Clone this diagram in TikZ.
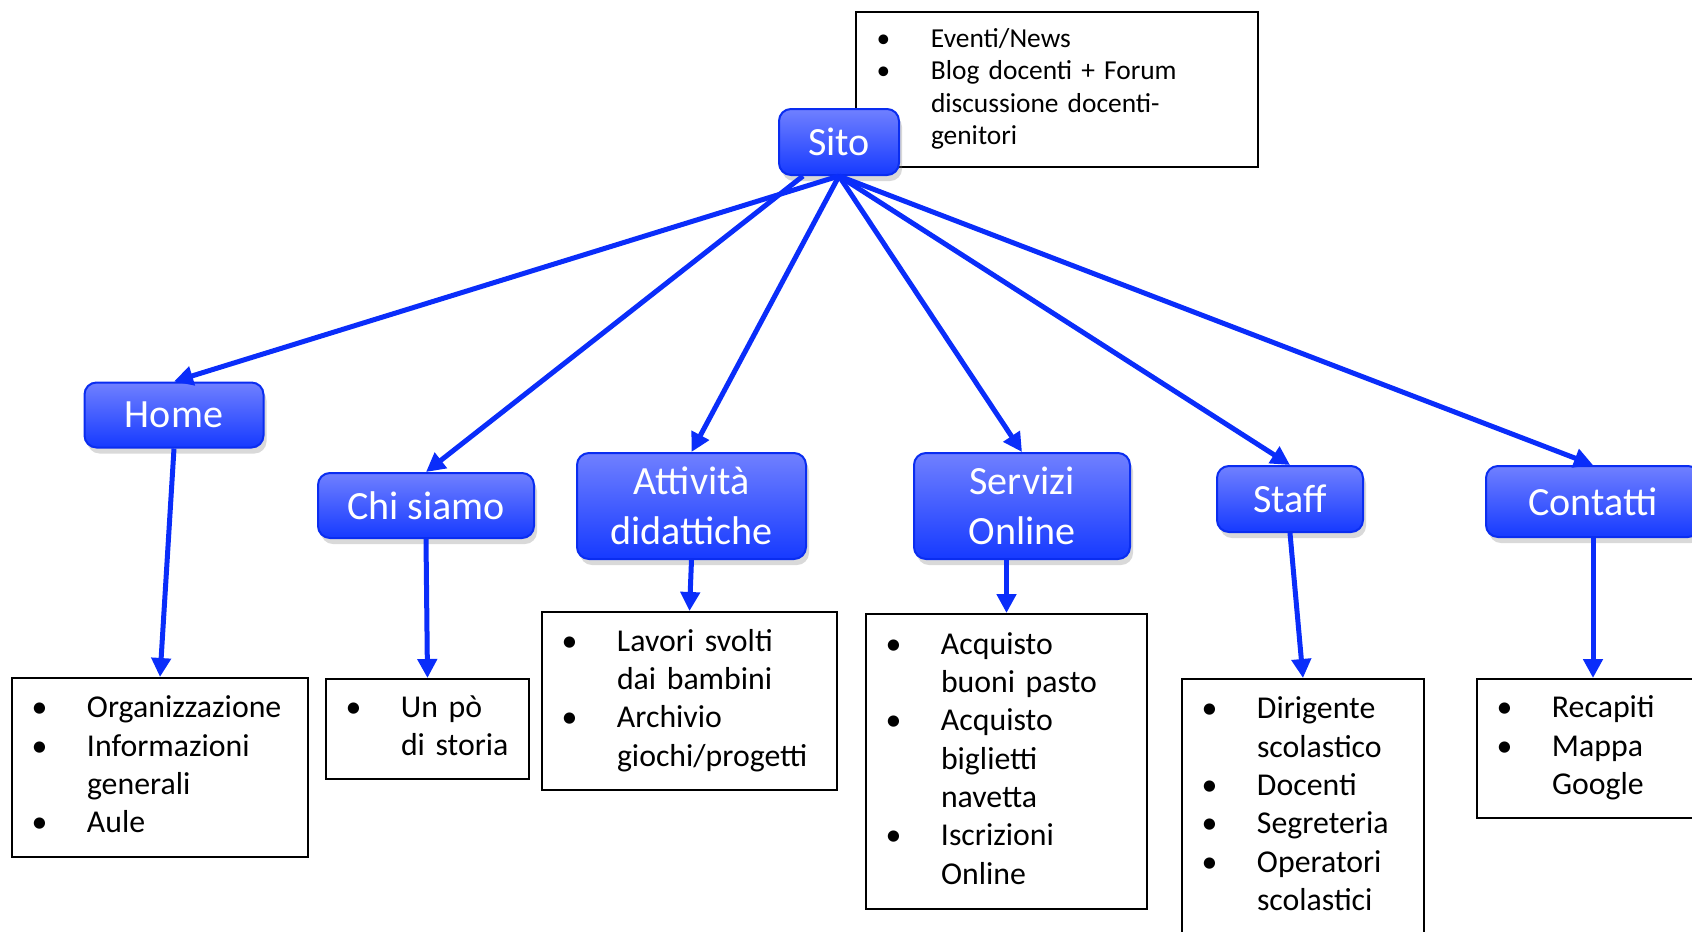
\documentclass[tikz,border=0pt]{standalone}
\usepackage{fontspec}
\setmainfont{Carlito}
\usetikzlibrary{arrows.meta, shadows, positioning}

\definecolor{boxtop}{RGB}{112,128,255}
\definecolor{boxbottom}{RGB}{22,58,255}
\definecolor{boxline}{RGB}{10,45,240}
\definecolor{arrowblue}{RGB}{10,45,250}

\newcommand{\blt}{\makebox[0pt]{\textbullet}}

\tikzset{
  topic/.style={draw=boxline, line width=0.2mm, rounded corners=1.2mm,
    top color=boxtop, bottom color=boxbottom, text=white, align=center,
    inner sep=0pt, font=\fontsize{11.4}{14.1}\selectfont,
    drop shadow={shadow xshift=0.3mm, shadow yshift=-0.6mm, opacity=0.3}},
  listbox/.style={draw=black, line width=0.2mm, fill=white, align=left,
    inner xsep=2.75mm, inner ysep=0pt, font=\fontsize{9.05}{10.9}\selectfont},
  link/.style={draw=arrowblue, line width=0.5mm,
    -{Triangle[length=1.9mm,width=1.9mm]}}
}

\begin{document}
\begin{tikzpicture}[x=0.1mm, y=-0.1mm]
\useasboundingbox (0,0) rectangle (1692,931);

% box next to the root
\node[listbox, font=\fontsize{7.8}{9.2}\selectfont, text width=34.7mm, minimum height=15.5mm] (notes) at (1057,89.5)
  {\begin{tabular}{@{}l@{\hspace{4.75mm}}l@{}}\blt & Eventi/News\\ \blt & Blog docenti + Forum\\ & discussione docenti-\\ & genitori\end{tabular}};

% root and sections
\node[topic, minimum width=12mm, minimum height=6.6mm] (sito) at (839,142) {Sito};
\node[topic, minimum width=17.9mm, minimum height=6.5mm] (home) at (174,415) {Home};
\node[topic, minimum width=21.6mm, minimum height=6.5mm] (chi) at (426,505.5) {Chi siamo};
\node[topic, minimum width=22.9mm, minimum height=10.6mm] (att) at (691.5,506) {Attività\\didattiche};
\node[topic, minimum width=21.6mm, minimum height=10.6mm] (serv) at (1022,506) {Servizi\\Online};
\node[topic, minimum width=14.6mm, minimum height=6.6mm] (staff) at (1290,499) {Staff};
\node[topic, minimum width=21.4mm, minimum height=7.1mm] (cont) at (1593,501.5) {Contatti};

% contents of each section
\node[listbox, text width=24.1mm, minimum height=17.9mm] (homel) at (160,767.5)
  {\begin{tabular}{@{}l@{\hspace{4.75mm}}l@{}}\blt & Organizzazione\\ \blt & Informazioni\\ & generali\\ \blt & Aule\end{tabular}};
\node[listbox, text width=14.8mm, minimum height=10mm] (chil) at (427.5,729)
  {\begin{tabular}{@{}l@{\hspace{4.75mm}}l@{}}\blt & Un pò\\ & di storia\end{tabular}};
\node[listbox, text width=24mm, minimum height=17.8mm] (attl) at (689.5,701)
  {\begin{tabular}{@{}l@{\hspace{4.75mm}}l@{}}\blt & Lavori svolti\\ & dai bambini\\ \blt & Archivio\\ & giochi/progetti\end{tabular}};
\node[listbox, text width=22.6mm, minimum height=29.5mm] (servl) at (1006.5,761.5)
  {\begin{tabular}{@{}l@{\hspace{4.75mm}}l@{}}\blt & Acquisto\\ & buoni pasto\\ \blt & Acquisto\\ & biglietti\\ & navetta\\ \blt & Iscrizioni\\ & Online\end{tabular}};
\node[listbox, text width=18.7mm, minimum height=25.6mm] (staffl) at (1303,807)
  {\begin{tabular}{@{}l@{\hspace{4.75mm}}l@{}}\blt & Dirigente\\ & scolastico\\ \blt & Docenti\\ \blt & Segreteria\\ \blt & Operatori\\ & scolastici\end{tabular}};
\node[listbox, text width=17.7mm, minimum height=13.9mm] (contl) at (1593,748.5)
  {\begin{tabular}{@{}l@{\hspace{4.75mm}}l@{}}\blt & Recapiti\\ \blt & Mappa\\ & Google\end{tabular}};

% links from the root
\draw[link] (sito.south) -- (home.north);
\draw[link] ([xshift=-3.6mm]sito.south) -- (chi.north);
\draw[link] (sito.south) -- (att.north);
\draw[link] (sito.south) -- (serv.north);
\draw[link] (sito.south) -- (staff.north);
\draw[link] (sito.south) -- (cont.north);

% links down to the lists
\draw[link] (home.south) -- (homel.north);
\draw[link] (chi.south) -- (chil.north);
\draw[link] (att.south) -- (attl.north);
\draw[link] (serv.south -| servl.north) -- (servl.north);
\draw[link] (staff.south) -- (staffl.north);
\draw[link] (cont.south) -- (contl.north);
\end{tikzpicture}
\end{document}
